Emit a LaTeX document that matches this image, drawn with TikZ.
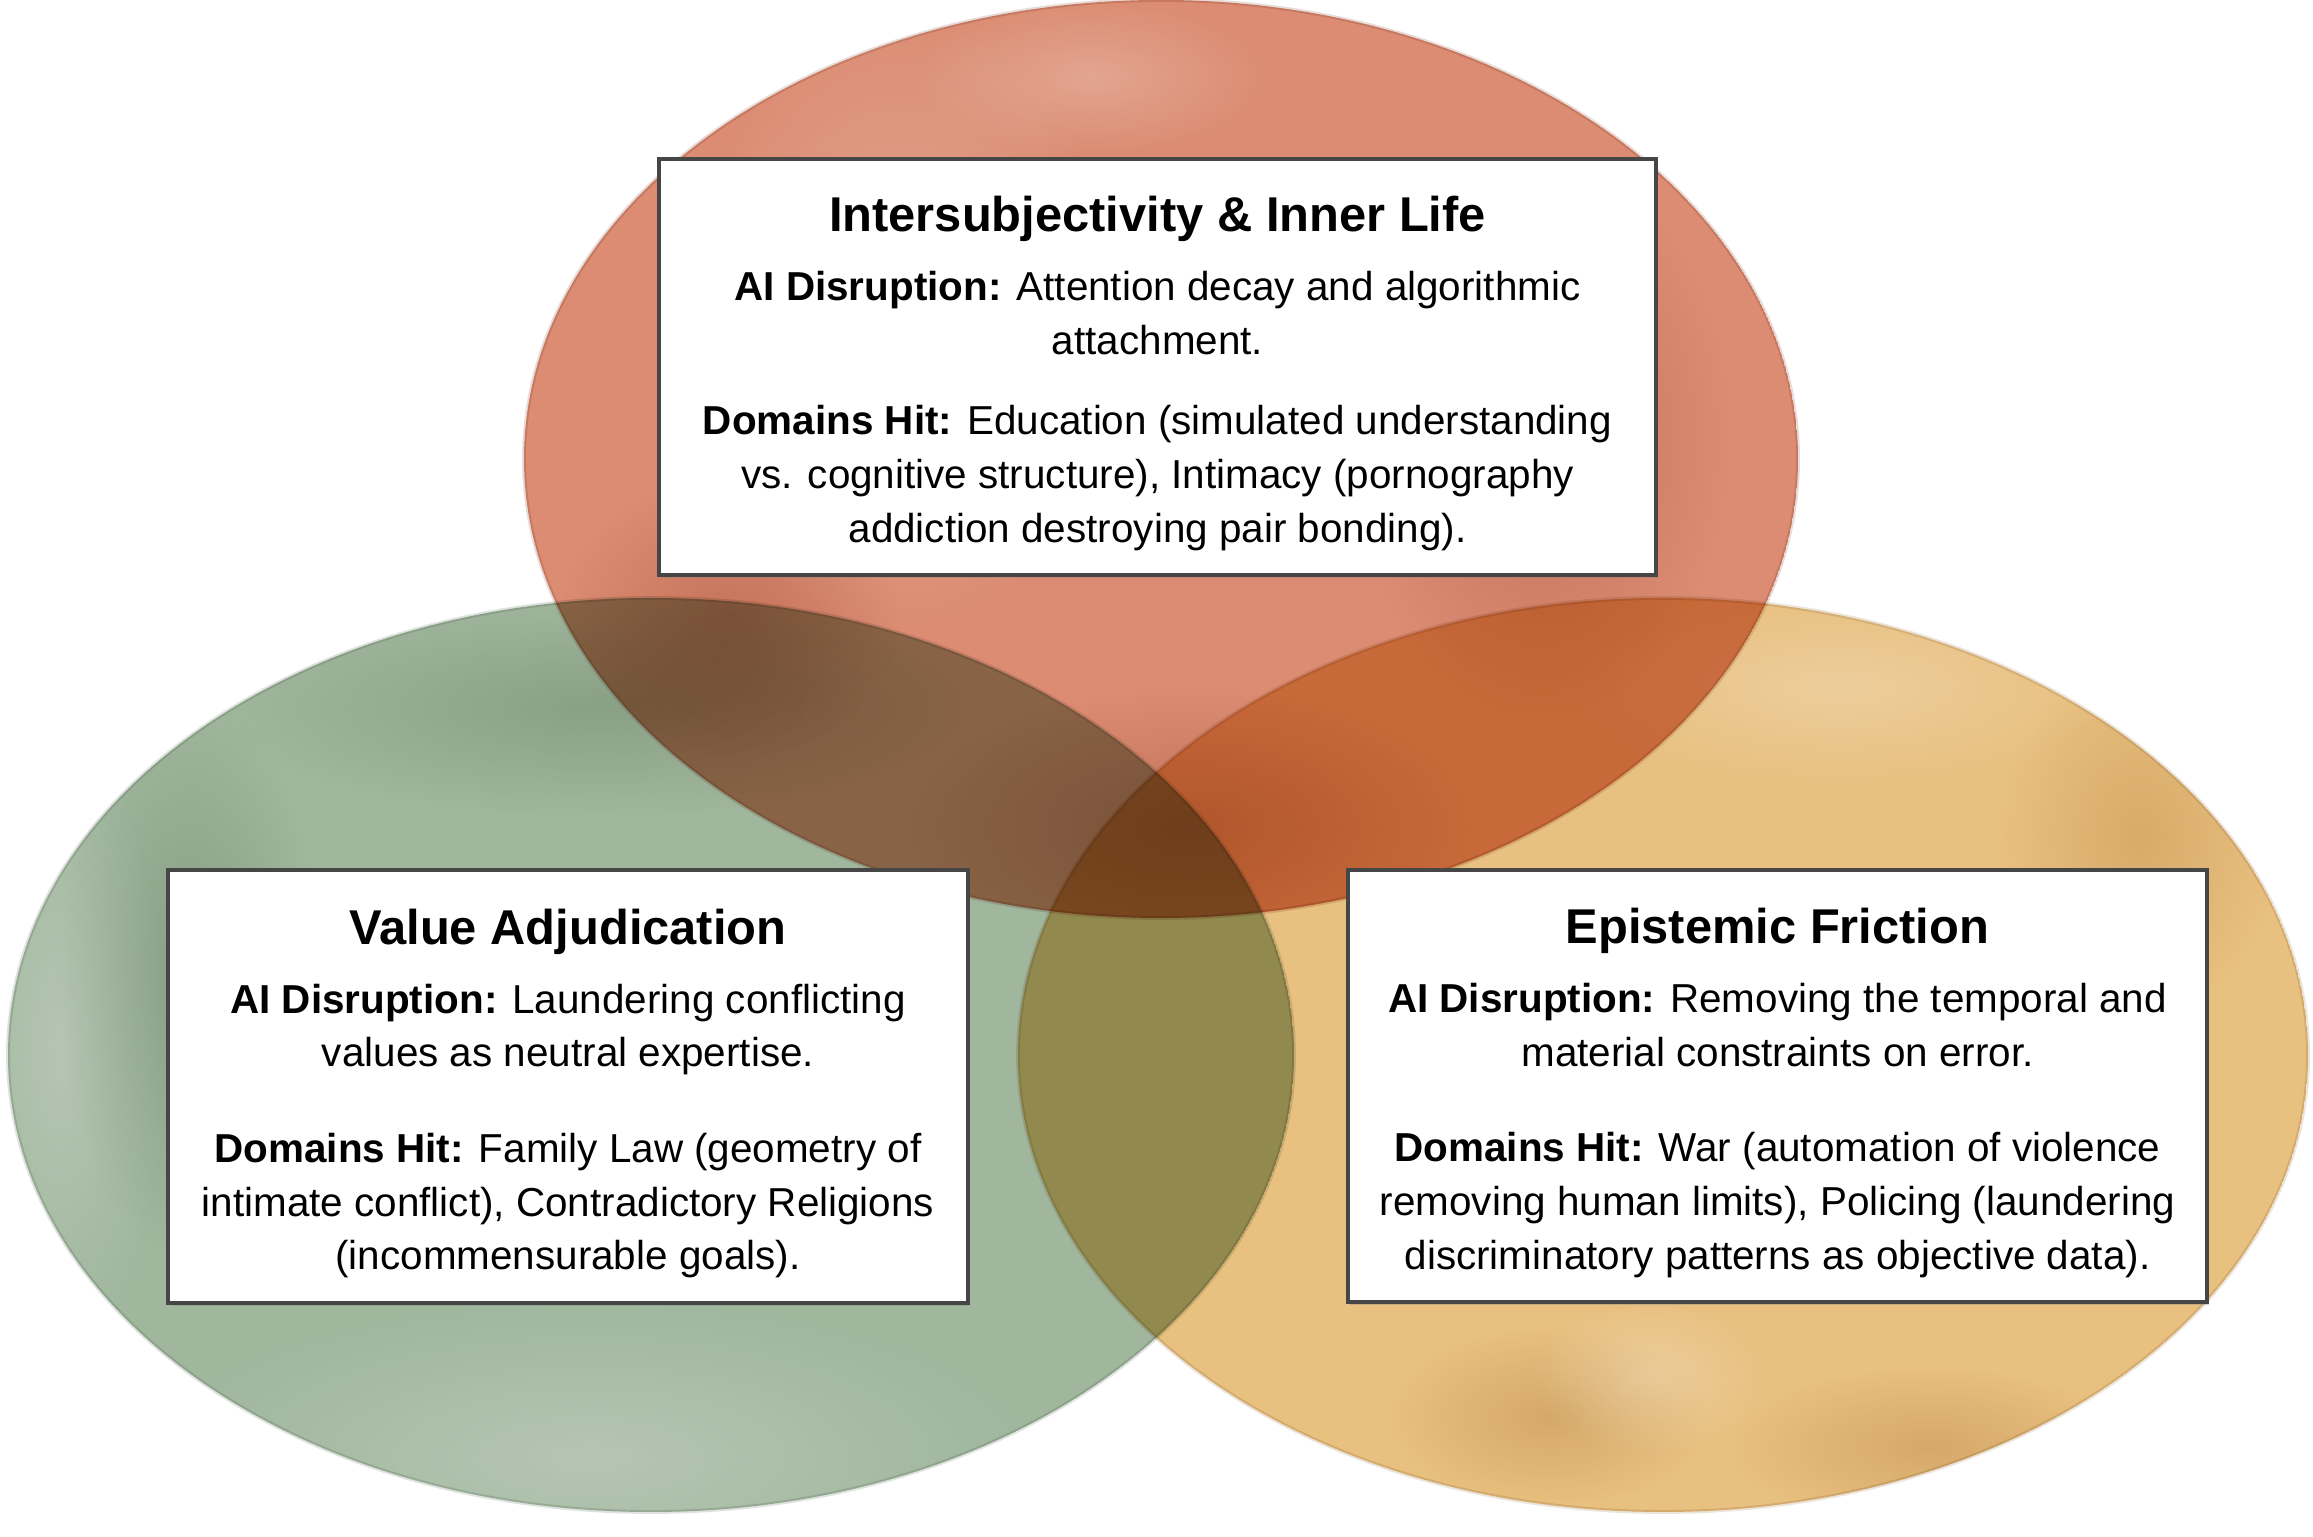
\documentclass[tikz,border=0pt]{standalone}
\usepackage{fontspec}
\setmainfont{Liberation Sans}
\usetikzlibrary{shadows,fadings}
\definecolor{wred}{RGB}{219,140,114}
\definecolor{wgreen}{RGB}{160,182,157}
\definecolor{wyellow}{RGB}{232,192,128}
\definecolor{boxline}{RGB}{70,70,70}
\tikzfading[name=fuzzyspot, inner color=transparent!0, outer color=transparent!100]
\tikzset{
  blob/.style={blend mode=multiply},
  rim/.style={line width=1.1pt, opacity=0.22, blend mode=multiply},
  darkspot/.style={fill=#1, path fading=fuzzyspot, fill opacity=0.3, blend mode=multiply},
  lightspot/.style={fill=white, path fading=fuzzyspot, fill opacity=0.22},
  infobox/.style={draw=boxline, line width=0.9pt, fill=white, align=center,
    inner sep=0pt, font=\fontsize{11.5}{15.3}\selectfont,
    drop shadow={opacity=0.3, shadow xshift=0.7pt, shadow yshift=-0.9pt}},
}
\newcommand{\ttl}[2]{{\fontsize{13.9}{15.3}\selectfont\bfseries\rule{0pt}{#1}#2}}
\newcommand{\redpath}{(11.61,10.78) ellipse [x radius=6.37cm, y radius=4.59cm]}
\begin{document}
\begin{tikzpicture}
\useasboundingbox (0,0) rectangle (23.13,15.37);
\fill[white] (0,0) rectangle (23.13,15.37);
% green circle with texture
\begin{scope}
\clip (6.51,4.82) ellipse [x radius=6.43cm, y radius=4.57cm];
\fill[wgreen, blob] (6.51,4.82) ellipse [x radius=6.43cm, y radius=4.57cm];
\fill[lightspot] (5.9,0.8) ellipse [x radius=4.5cm, y radius=1.6cm];
\fill[lightspot] (0.6,4.9) ellipse [x radius=1.1cm, y radius=3.2cm];
\fill[darkspot=wgreen!80!black] (1.9,5.6) ellipse [x radius=1.3cm, y radius=2.8cm];
\fill[darkspot=wgreen!85!black] (6.0,8.3) ellipse [x radius=3.8cm, y radius=1.1cm];
\end{scope}
% yellow circle with texture
\begin{scope}
\clip (16.63,4.82) ellipse [x radius=6.45cm, y radius=4.57cm];
\fill[wyellow, blob] (16.63,4.82) ellipse [x radius=6.45cm, y radius=4.57cm];
\fill[darkspot=wyellow!80!black] (15.5,1.2) ellipse [x radius=1.6cm, y radius=0.9cm];
\fill[darkspot=wyellow!80!black] (19.3,0.9) ellipse [x radius=2.0cm, y radius=0.8cm];
\fill[darkspot=wyellow!85!black] (21.4,7.0) ellipse [x radius=1.4cm, y radius=1.8cm];
\fill[lightspot] (18.4,8.5) ellipse [x radius=2.8cm, y radius=1.0cm];
\fill[lightspot] (16.5,1.6) ellipse [x radius=1.2cm, y radius=0.8cm];
\end{scope}
% red circle with texture
\begin{scope}
\clip \redpath;
\fill[wred, blob] \redpath;
\fill[lightspot] (9.0,12.2) ellipse [x radius=2.2cm, y radius=3.2cm];
\fill[lightspot] (10.9,14.6) ellipse [x radius=1.8cm, y radius=0.8cm];
\fill[darkspot=wred!75!black] (15.4,11.0) ellipse [x radius=1.9cm, y radius=2.8cm];
\fill[darkspot=wred!75!black] (11.9,7.1) ellipse [x radius=2.8cm, y radius=1.4cm];
\fill[darkspot=wred!80!black] (7.3,9.2) ellipse [x radius=1.7cm, y radius=1.4cm];
\end{scope}
\draw[wgreen!70!black, rim] (6.51,4.82) ellipse [x radius=6.43cm, y radius=4.57cm];
\draw[wyellow!70!black, rim] (16.63,4.82) ellipse [x radius=6.45cm, y radius=4.57cm];
\draw[wred!70!black, rim] \redpath;
% boxes
\node[infobox, minimum width=9.97cm, minimum height=4.16cm] (inner) at (11.575,11.70) {%
\ttl{13.7pt}{Intersubjectivity \& Inner Life}\\[4.3pt]
\textbf{AI Disruption:} Attention decay and algorithmic\\
attachment.\\[7.6pt]
\textbf{Domains Hit:} Education (simulated understanding\\
vs. cognitive structure), Intimacy (pornography\\
addiction destroying pair bonding).};
\node[infobox, minimum width=8.00cm, minimum height=4.33cm] (value) at (5.68,4.505) {%
\ttl{14.1pt}{Value Adjudication}\\[4.3pt]
\textbf{AI Disruption:} Laundering conflicting\\
values as neutral expertise.\\[11.8pt]
\textbf{Domains Hit:} Family Law (geometry of\\
intimate conflict), Contradictory Religions\\
(incommensurable goals).};
\node[infobox, minimum width=8.59cm, minimum height=4.32cm] (epist) at (17.775,4.51) {%
\ttl{14.1pt}{Epistemic Friction}\\[4.3pt]
\textbf{AI Disruption:} Removing the temporal and\\
material constraints on error.\\[11.8pt]
\textbf{Domains Hit:} War (automation of violence\\
removing human limits), Policing (laundering\\
discriminatory patterns as objective data).};
\end{tikzpicture}
\end{document}
